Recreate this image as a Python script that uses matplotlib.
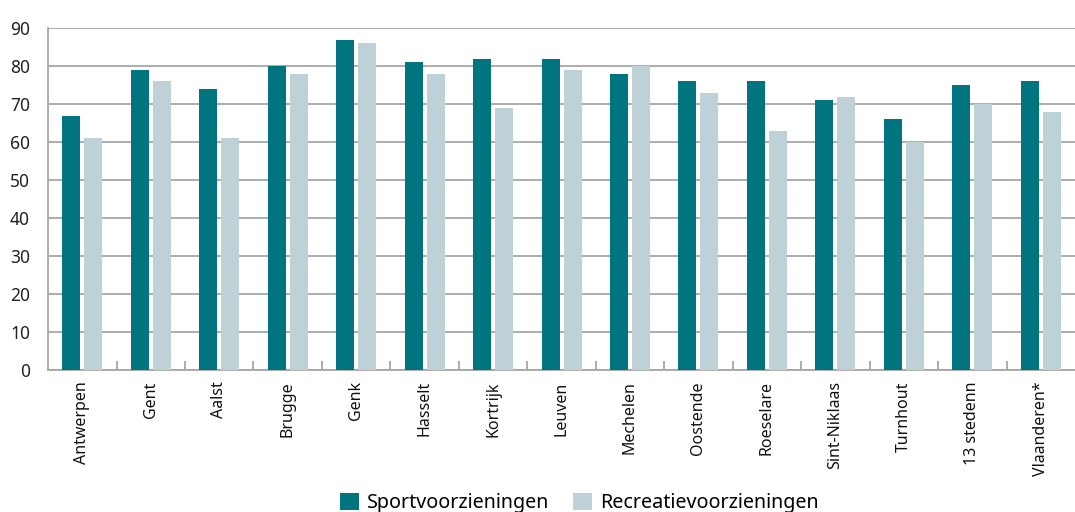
import numpy as np
import matplotlib.pyplot as plt
from matplotlib.ticker import FixedLocator

plt.rcParams['font.family'] = ['Noto Sans', 'DejaVu Sans']

steden = ['Antwerpen', 'Gent', 'Aalst', 'Brugge', 'Genk', 'Hasselt', 'Kortrijk',
          'Leuven', 'Mechelen', 'Oostende', 'Roeselare', 'Sint-Niklaas',
          'Turnhout', '13 stedenn', 'Vlaanderen*']
sport = [67, 79, 74, 80, 87, 81, 82, 82, 78, 76, 76, 71, 66, 75, 76]
recreatie = [61, 76, 61, 78, 86, 78, 69, 79, 80, 73, 63, 72, 60, 70, 68]
yticks = [0, 10, 20, 30, 40, 50, 60, 70, 80, 90]

donker = '#00747F'
licht = '#BED1D7'
grijs = '#A6A6A6'

fig = plt.figure(figsize=(10.75, 5.12), dpi=100)
ax = fig.add_axes([0.0447, 0.277, 0.9553, 0.668])

x = np.arange(len(steden))
b = 0.263
g = 0.058
ax.bar(x - (b + g) / 2, sport, width=b, color=donker, label='Sportvoorzieningen', zorder=3)
ax.bar(x + (b + g) / 2, recreatie, width=b, color=licht, label='Recreatievoorzieningen', zorder=3)

ax.set_xlim(-0.5, len(steden) - 0.5)
ax.set_ylim(0, 90)
ax.set_yticks(yticks)
ax.yaxis.grid(True, color=grijs, linewidth=1.3, zorder=0)
ax.tick_params(axis='y', length=0, pad=13, labelsize=12.5, colors='#222222')

ax.set_xticks(x)
ax.set_xticklabels(steden, rotation=90, fontsize=11.5, color='#111111')
ax.tick_params(axis='x', which='major', length=0, pad=8)
ax.xaxis.set_minor_locator(FixedLocator(x[:-1] + 0.5))
ax.tick_params(axis='x', which='minor', direction='in', length=6.5, width=1.3, color=grijs)

for s in ['top', 'right']:
    ax.spines[s].set_visible(False)
for s in ['left', 'bottom']:
    ax.spines[s].set_color(grijs)
    ax.spines[s].set_linewidth(1.3)

fig.legend(loc='center', bbox_to_anchor=(0.539, 0.018), ncol=2, frameon=False,
           fontsize=14.2, handlelength=0.95, handleheight=0.95, columnspacing=1.2,
           handletextpad=0.4)

fig.savefig('out.png', dpi=100)
